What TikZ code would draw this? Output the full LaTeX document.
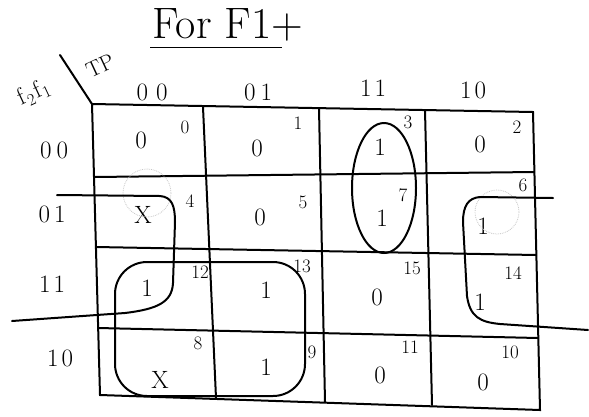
\documentclass[tikz,border=0pt]{standalone}
\usepackage{fontspec}
\setmainfont{Latin Modern Roman}
\begin{document}
\begin{tikzpicture}[x=1pt,y=-1pt,
  gridline/.style={line width=2pt, line cap=round},
  grouploop/.style={line width=2pt, line cap=round, line join=round},
  faint/.style={gray!45, densely dotted, line width=0.8pt},
  val/.style={font=\fontsize{25}{25}\selectfont, inner sep=0pt},
  idx/.style={font=\fontsize{19}{19}\selectfont, inner sep=0pt},
  lab/.style={font=\fontsize{25}{25}\selectfont, inner sep=0pt}]
\useasboundingbox (0,0) rectangle (589,416);

% title
\node[font=\fontsize{44}{44}\selectfont, inner sep=0pt] (title) at (228,25) {For F1+};
\coordinate (ul1) at (150,47);
\coordinate (ul2) at (282,47);
\draw[line width=1pt] (ul1) -- (ul2);

% grid coordinates
\coordinate (TL) at (92,104);
\coordinate (T1) at (203,107);
\coordinate (T2) at (319,108);
\coordinate (T3) at (425,110);
\coordinate (TR) at (533,112);
\coordinate (BL) at (100,395);
\coordinate (B1) at (216,398);
\coordinate (B2) at (325,402);
\coordinate (B3) at (432,405);
\coordinate (BR) at (540,410);
\coordinate (L1) at (94,177);  \coordinate (R1) at (534,172);
\coordinate (L2) at (96,247);  \coordinate (R2) at (536,255);
\coordinate (L3) at (98,328);  \coordinate (R3) at (538,338);
\coordinate (S0) at (60,55);

\draw[gridline] (TL) -- (TR) -- (BR) -- (BL) -- cycle;
\draw[gridline] (T1) -- (B1);
\draw[gridline] (T2) -- (B2);
\draw[gridline] (T3) -- (B3);
\draw[gridline] (L1) -- (R1);
\draw[gridline] (L2) -- (R2);
\draw[gridline] (L3) -- (R3);
\draw[gridline] (S0) -- (TL);

% corner labels
\node[font=\fontsize{24}{24}\selectfont, rotate=25, inner sep=0pt] (vars) at (34,93) {f\kern1pt\textsubscript{2}\kern1pt f\kern1pt\textsubscript{1}};
\node[font=\fontsize{22}{22}\selectfont, rotate=25, inner sep=0pt] (tp) at (100,66) {TP};

% column headers
\node[lab] (c00) at (152,92) {0\hspace{8pt}0};
\node[lab] (c01) at (258,92) {0\hspace{5pt}1};
\node[lab] (c11) at (373,88) {1\hspace{3pt}1};
\node[lab] (c10) at (473,90) {1\hspace{3pt}0};
% row headers
\node[lab] (r00) at (54,150) {0\hspace{5pt}0};
\node[lab] (r01) at (52,214) {0\hspace{4pt}1};
\node[lab] (r11) at (52,284) {1\hspace{3pt}1};
\node[lab] (r10) at (60,358) {1\hspace{3pt}0};

% row 00
\node[val] (v0) at (141,140) {0};  \node[idx] (i0) at (185,127) {0};
\node[val] (v1) at (257,148) {0};  \node[idx] (i1) at (298,123) {1};
\node[val] (v3) at (380,147) {1};  \node[idx] (i3) at (408,122) {3};
\node[val] (v2) at (480,144) {0};  \node[idx] (i2) at (517,127) {2};
% row 01
\node[val] (v4) at (143,215) {X};  \node[idx] (i4) at (190,201) {4};
\node[val] (v5) at (260,217) {0};  \node[idx] (i5) at (303,202) {5};
\node[val] (v7) at (382,218) {1};  \node[idx] (i7) at (403,195) {7};
\node[val] (v6) at (483,226) {1};  \node[idx] (i6) at (523,185) {6};
% row 11
\node[val] (v12) at (147,288) {1}; \node[idx] (i12) at (200,272) {12};
\node[val] (v13) at (266,290) {1}; \node[idx] (i13) at (302,266) {13};
\node[val] (v15) at (377,297) {0}; \node[idx] (i15) at (412,268) {15};
\node[val] (v14) at (480,302) {1}; \node[idx] (i14) at (513,273) {14};
% row 10
\node[val] (v8) at (160,380) {X};  \node[idx] (i8) at (198,343) {8};
\node[val] (v9) at (266,367) {1};  \node[idx] (i9) at (312,352) {9};
\node[val] (v11) at (380,375) {0}; \node[idx] (i11) at (410,347) {11};
\node[val] (v10) at (483,382) {0}; \node[idx] (i10) at (510,352) {10};

% faint scribbles
\draw[faint] (147,193) circle [radius=24];
\draw[faint] (497,212) circle [radius=22];

% groups
\draw[grouploop] (384,188) ellipse [x radius=32, y radius=65];
\draw[grouploop, rounded corners=32pt] (115,262) rectangle (305,396);
\coordinate (la) at (57,195);
\coordinate (lb) at (12,321);
\draw[grouploop] (la) -- (160,196) .. controls (172,197) and (175,206) .. (175,222)
  -- (173,283) .. controls (172,302) and (158,309) .. (125,313) -- (lb);
\coordinate (ra) at (553,198);
\coordinate (rb) at (588,330);
\draw[grouploop] (ra) -- (480,197) .. controls (468,198) and (463,206) .. (463,222)
  -- (467,296) .. controls (470,317) and (480,322) .. (500,324) -- (rb);
\end{tikzpicture}
\end{document}
